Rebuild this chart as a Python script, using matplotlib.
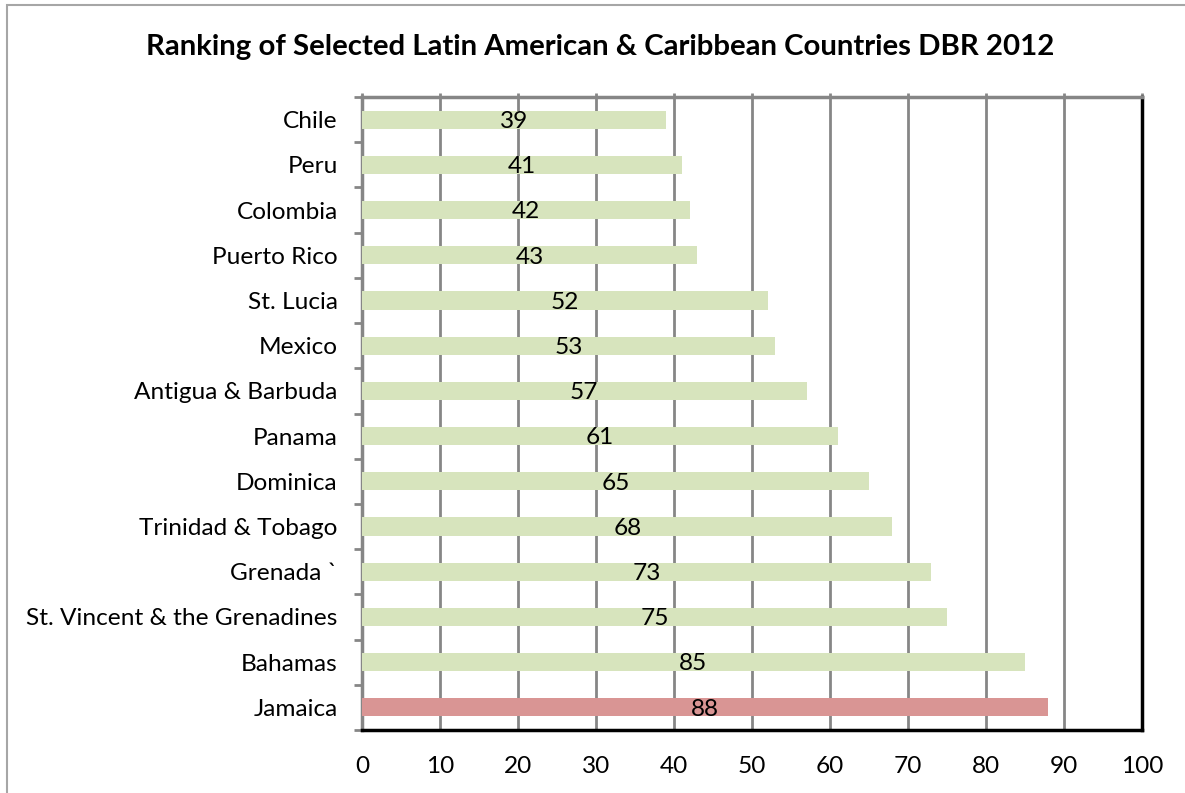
import matplotlib
matplotlib.use("Agg")
import matplotlib.pyplot as plt
from matplotlib.patches import Rectangle

countries = ["Chile", "Peru", "Colombia", "Puerto Rico", "St. Lucia", "Mexico",
             "Antigua & Barbuda", "Panama", "Dominica", "Trinidad & Tobago",
             "Grenada `", "St. Vincent & the Grenadines", "Bahamas", "Jamaica"]
ranks = [39, 41, 42, 43, 52, 53, 57, 61, 65, 68, 73, 75, 85, 88]
highlight = "Jamaica"
xticks = [0, 10, 20, 30, 40, 50, 60, 70, 80, 90, 100]
title = "Ranking of Selected Latin American & Caribbean Countries DBR 2012"

plt.rcParams['font.family'] = ['Lato', 'DejaVu Sans']

W, H = 1185, 793
fig = plt.figure(figsize=(W / 100, H / 100), dpi=100)
left, right, top, bottom = 362, 1142, 97, 730
ax = fig.add_axes([left / W, 1 - bottom / H, (right - left) / W, (bottom - top) / H])

FS = 17.6
green = "#d7e4bd"
red = "#d99594"
colors = [red if c == highlight else green for c in countries]
ypos = list(range(len(countries)))
ax.barh(ypos, ranks, height=0.4, color=colors, zorder=3)
for y, v in zip(ypos, ranks):
    ax.text(v / 2, y + 0.04, str(v), ha="center", va="center", fontsize=FS, zorder=4)

ax.set_ylim(len(countries) - 0.5, -0.5)
ax.set_xlim(0, 100)
ax.set_xticks(xticks)
ax.set_xticklabels([str(t) for t in xticks], fontsize=FS)
ax.tick_params(axis="x", which="both", bottom=False, top=True, length=3, color="#868686",
               width=2, pad=16, labelbottom=True, labeltop=False)
ax.set_yticks(ypos)
ax.set_yticklabels(countries, fontsize=FS)
ax.tick_params(axis="y", which="major", left=False, pad=14)
ax.set_yticks([i - 0.5 for i in range(len(countries) + 1)], minor=True)
ax.tick_params(axis="y", which="minor", left=True, length=6, width=2, color="#868686")

ax.grid(axis="x", color="#868686", linewidth=2, zorder=0)
ax.set_axisbelow(True)
for s in ["top", "left"]:
    ax.spines[s].set_color("#868686")
    ax.spines[s].set_linewidth(2.5)
for s in ["bottom", "right"]:
    ax.spines[s].set_color("black")
    ax.spines[s].set_linewidth(2.5)

fig.text(600 / W, 1 - 47 / H, title, ha="center", va="center", fontsize=21.2, fontweight="bold")

fig.patches.append(Rectangle((7 / W, -0.1), 1.2, 1 - 5 / H + 0.1, transform=fig.transFigure,
                             fill=False, edgecolor="#a6a6a6", linewidth=1.5))

fig.savefig("out.png", dpi=100)
